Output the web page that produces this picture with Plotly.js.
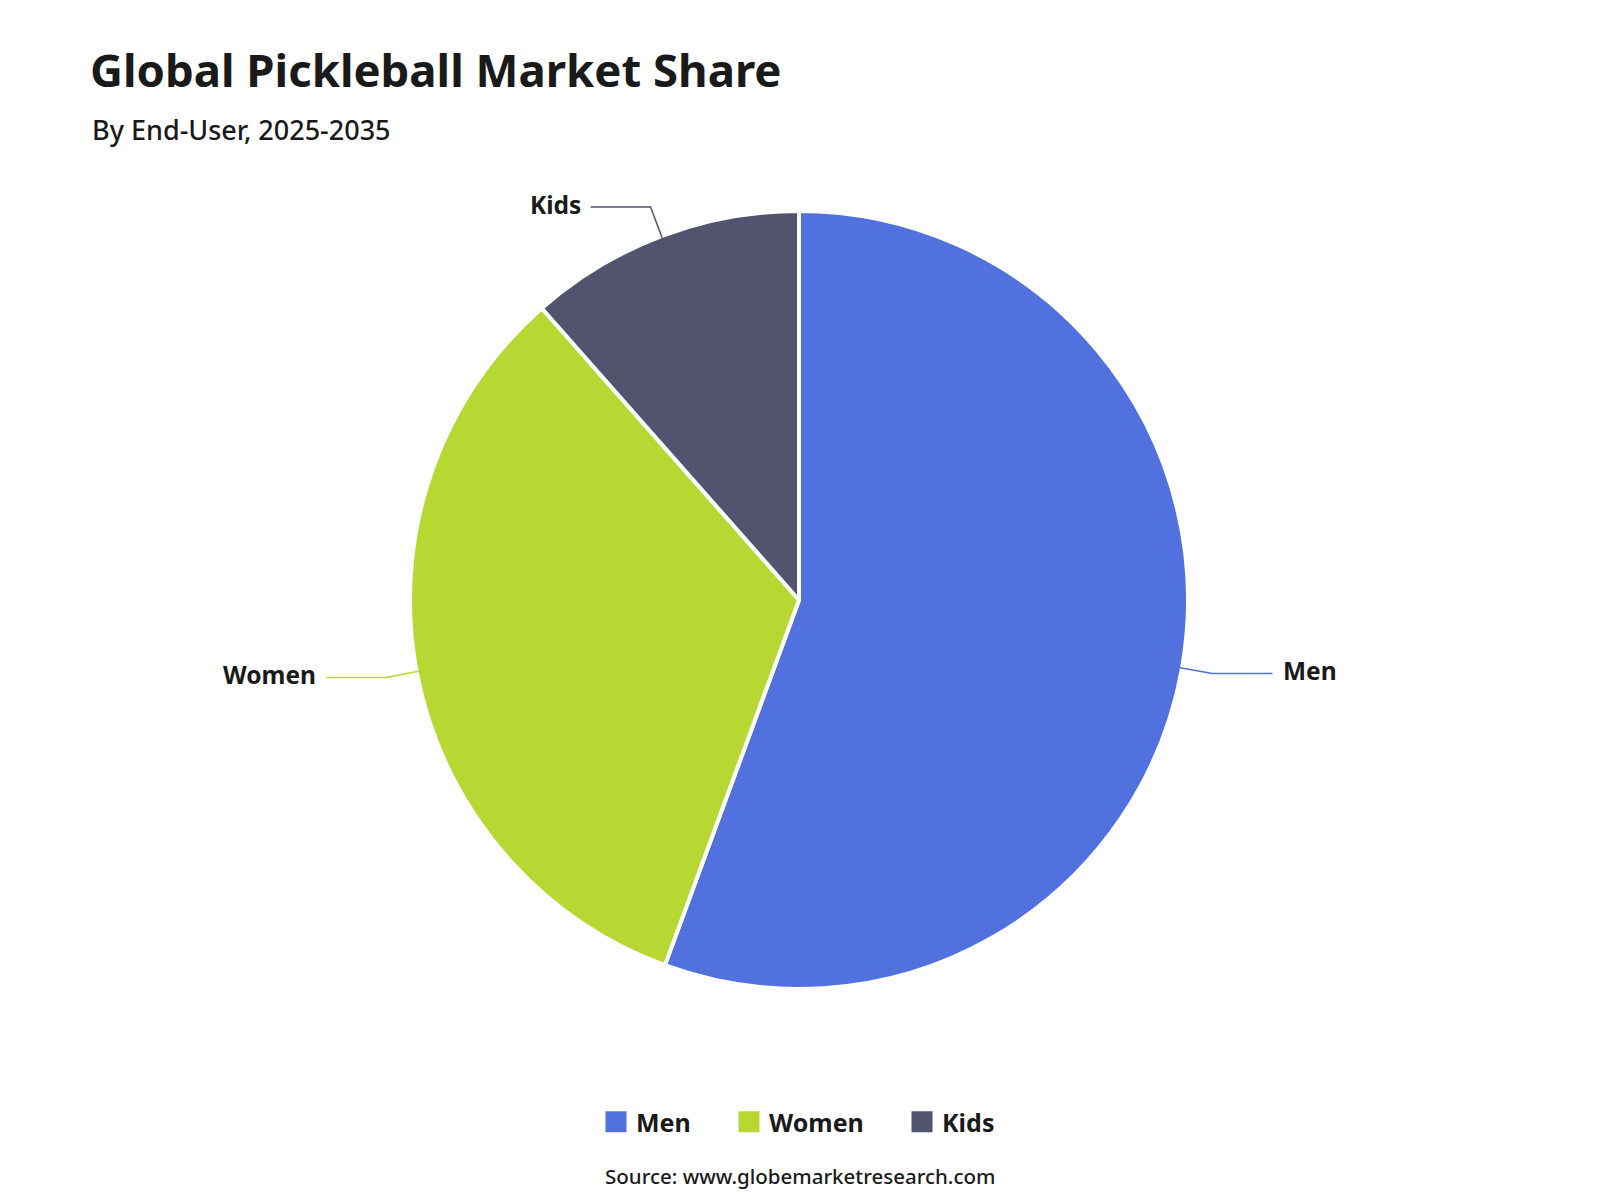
<!DOCTYPE html>
<html>
<head>
<meta charset="utf-8">
<script src="https://cdn.plot.ly/plotly-3.0.1.min.js"></script>
<style>
  body { margin: 0; background: #fff; }
  #graph { width: 1600px; height: 1200px; }
</style>
</head>
<body>
<div id="graph"></div>
<script>
// market share by end-user (%)
var segments = ['Men', 'Women', 'Kids'];
var shares = [55.6, 32.9, 11.5];
var colors = ['#5071de', '#b7d733', '#52546f'];

var W = 1600, H = 1200;
var cx = 799, cy = 600, R = 389;   // pie centre / radius in px
var FONT = 'Noto Sans, Open Sans, sans-serif';
var legendLeft = [596, 729, 902];  // px, one legend box per key (spacing differs per item)

// leader lines + outside labels, placed at each slice's mid angle
function labelBits(){
    var total = shares.reduce(function(a, b){ return a + b; }, 0);
    var shapes = [], annos = [];
    var cum = 0;
    for (var i = 0; i < shares.length; i++){
        var th = 2 * Math.PI * (cum + shares[i] / 2) / total;
        cum += shares[i];
        var s = Math.sin(th), c = Math.cos(th);
        var side = s >= 0 ? 1 : -1;
        var x0 = cx + (R - 2) * s, y0 = cy - (R - 2) * c;
        var x1 = cx + 420 * s,     y1 = cy - 420 * c;
        var x2 = x1 + side * 60;
        var px = function(x){ return (x / W).toFixed(5); };
        var py = function(y){ return (1 - y / H).toFixed(5); };
        shapes.push({
            type: 'path', xref: 'paper', yref: 'paper',
            path: 'M' + px(x0) + ',' + py(y0) + ' L' + px(x1) + ',' + py(y1) + ' L' + px(x2) + ',' + py(y1),
            line: {color: colors[i], width: 1.5}
        });
        annos.push({
            xref: 'paper', yref: 'paper', x: x2 / W, y: 1 - y1 / H,
            xanchor: side > 0 ? 'left' : 'right', yanchor: 'middle',
            xshift: side * 8, yshift: 3, showarrow: false,
            text: '<b>' + segments[i] + '</b>',
            font: {family: FONT, size: 24.5, color: '#1a1a1a'}
        });
    }
    return {shapes: shapes, annos: annos};
}

function plot(){
    var bits = labelBits();

    var pie = {
        type: 'pie',
        labels: segments,
        values: shares,
        sort: false,
        direction: 'clockwise',
        rotation: 0,
        textinfo: 'none',
        hoverinfo: 'label+percent',
        showlegend: false,
        marker: {colors: colors, line: {color: '#ffffff', width: 4}},
        domain: {x: [(cx - R) / W, (cx + R) / W], y: [1 - (cy + R) / H, 1 - (cy - R) / H]}
    };

    var layout = {
        width: W, height: H,
        margin: {l: 0, r: 0, t: 0, b: 0},
        paper_bgcolor: '#ffffff',
        plot_bgcolor: 'rgba(0,0,0,0)',
        xaxis: {visible: false, fixedrange: true},
        yaxis: {visible: false, fixedrange: true},
        title: {
            text: '<b>Global Pickleball Market Share</b>',
            x: 90 / W, xanchor: 'left', xref: 'paper',
            y: 1 - 71 / H, yanchor: 'middle', yref: 'container',
            font: {family: FONT, size: 45.5, color: '#1a1a1a'}
        },
        showlegend: true,
        shapes: bits.shapes
    };

    // empty traces only to get bigger square legend keys
    var data = [pie];
    for (var i = 0; i < segments.length; i++){
        var lg = i === 0 ? 'legend' : 'legend' + (i + 1);
        data.push({
            type: 'scatter', mode: 'markers', x: [null], y: [null],
            name: segments[i], hoverinfo: 'skip', legend: lg,
            marker: {symbol: 'square', size: 16, color: colors[i], line: {color: colors[i], width: 5}}
        });
        layout[lg] = {
            orientation: 'h', x: legendLeft[i] / W, xanchor: 'left', y: 1 - 1122 / H, yanchor: 'middle',
            font: {family: FONT, size: 25, color: '#1a1a1a', weight: 700},
            bgcolor: 'rgba(0,0,0,0)'
        };
    }

    layout.annotations = bits.annos.concat([
        {
            xref: 'paper', yref: 'paper', x: 90 / W, y: 1 - 129 / H,
            xanchor: 'left', yanchor: 'middle', showarrow: false,
            text: 'By End-User, 2025-2035',
            font: {family: FONT, size: 27, color: '#1a1a1a', weight: 500}
        },
        {
            xref: 'paper', yref: 'paper', x: 800 / W, y: 1 - 1176 / H,
            xanchor: 'center', yanchor: 'middle', showarrow: false,
            text: 'Source: www.globemarketresearch.com',
            font: {family: FONT, size: 20.5, color: '#1a1a1a', weight: 500}
        }
    ]);

    Plotly.newPlot('graph', data, layout, {displayModeBar: false});
}

plot();
</script>
</body>
</html>
